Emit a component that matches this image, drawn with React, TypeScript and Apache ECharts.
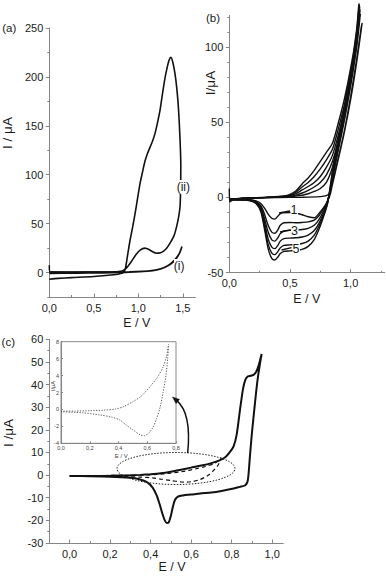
import React, { useEffect, useRef } from "react";
import * as echarts from "echarts";

const FONT = "'Liberation Sans', Arial, sans-serif";
const AXIS = "#858585";
const TXT = "#1a1a1a";

// ---------- Panel (a) ----------
const aTicksX = [0, 0.5, 1, 1.5];
const aMinorX = [0, 0.25, 0.5, 0.75, 1, 1.25, 1.5];
const aTicksY = [0, 50, 100, 150, 200, 250];
const aMinorY = [-25, 0, 25, 50, 75, 100, 125, 150, 175, 200, 225, 250];
const aIIForward = [[0, 7.5], [0.01, 0.4], [0.2, 0.3], [0.4, 0.4], [0.6, 0.5], [0.75, 0.8], [0.82, 1.5], [0.87, 5], [0.92, 11], [0.97, 18], [1.02, 23], [1.075, 25], [1.12, 23.5], [1.165, 21], [1.205, 19.8], [1.25, 20.3], [1.28, 21.6], [1.32, 25], [1.356, 30], [1.4, 37.5], [1.43, 47], [1.455, 58], [1.469, 68], [1.476, 90]];
const aIIReverse = [[1.476, 90], [1.477, 110], [1.469, 135], [1.45, 169], [1.43, 190], [1.412, 203], [1.39, 214], [1.367, 220], [1.345, 217], [1.32, 208], [1.3, 199], [1.27, 182], [1.244, 166], [1.215, 153], [1.187, 142], [1.16, 134.5], [1.131, 128], [1.1, 121], [1.075, 114], [1.05, 104], [1.019, 91], [0.99, 75], [0.963, 60], [0.935, 46], [0.907, 33], [0.885, 21], [0.868, 11], [0.852, 3], [0.83, 0], [0.8, -1], [0.75, -2], [0.5, -4], [0.25, -5.2], [0.1, -6], [0, -6.8]];
const aIForward = [[0, 0.6], [0.3, 0.5], [0.6, 0.5], [0.9, 0.7], [1.05, 1.2], [1.15, 2], [1.25, 3.8], [1.32, 6.5], [1.38, 10.5], [1.43, 15.5], [1.465, 20.5], [1.49, 26.5]];
const aIReverse = [[1.49, 26.5], [1.47, 21], [1.44, 16], [1.41, 12.5], [1.36, 8.5], [1.3, 5.5], [1.22, 3], [1.1, 1.3], [0.9, 0.3], [0.6, -0.3], [0.3, -0.6], [0, -0.9]];

// ---------- Panel (b) ----------
const bTicksX = [0, 0.5, 1];
const bMinorX = [0, 0.25, 0.5, 0.75, 1, 1.25];
const bTicksY = [-50, 0, 50, 100];
const bMinorY = [-50, -40, -30, -20, -10, 0, 10, 20, 30, 40, 50, 60, 70, 80, 90, 100, 110, 120];
const bCycle1 = [[0, 6], [0.004, -3], [0.03, -1.5], [0.1, -0.6], [0.2, -0.2], [0.4, 0], [0.6, 0.2], [0.75, 0.6], [0.8, 1.2], [0.83, 3], [0.86, 12], [0.9, 26], [0.95, 44], [1.0, 65], [1.05, 90], [1.095, 116],
  [1.085, 112], [1.05, 92], [1.0, 67], [0.95, 45], [0.9, 27], [0.86, 13], [0.835, 3], [0.81, -2.5], [0.78, -6.5], [0.74, -10.5], [0.7, -13.5], [0.65, -12.8], [0.6, -11.5], [0.55, -10.5], [0.5, -10], [0.44, -10.2], [0.42, -10.8], [0.4, -12.5], [0.375, -14.4], [0.35, -13.8], [0.32, -11], [0.29, -7], [0.26, -4], [0.22, -2.3], [0.17, -1.5], [0.1, -1.1], [0, -1]];
const bCycle2 = [[0, -1], [0.1, -0.6], [0.3, -0.1], [0.45, 0.3], [0.5, 0.6], [0.55, 1], [0.6, 1.5], [0.65, 2.5], [0.7, 4], [0.75, 6], [0.8, 10], [0.85, 20], [0.9, 35], [0.95, 52], [1.0, 74], [1.05, 100], [1.08, 122],
  [1.075, 120], [1.05, 103], [1.0, 76], [0.95, 52], [0.9, 32], [0.86, 16], [0.835, 5], [0.81, -2], [0.78, -7], [0.74, -12], [0.7, -15], [0.65, -16.2], [0.6, -16.6], [0.55, -16.8], [0.5, -16.6], [0.45, -16.8], [0.42, -18.5], [0.4, -21.5], [0.375, -23.8], [0.35, -23], [0.32, -18.5], [0.29, -11], [0.26, -5.5], [0.22, -2.8], [0.17, -1.7], [0.1, -1.3], [0, -1.2]];
const bCycle3 = [[0, -1.2], [0.1, -0.7], [0.3, -0.1], [0.45, 0.4], [0.5, 0.8], [0.55, 1.6], [0.6, 3], [0.65, 4.8], [0.7, 7], [0.75, 10], [0.8, 15], [0.85, 24], [0.9, 38], [0.95, 55], [1.0, 77], [1.05, 103], [1.078, 125],
  [1.072, 122], [1.05, 106], [1.0, 78], [0.95, 54], [0.9, 34], [0.86, 17], [0.835, 6], [0.81, -2.5], [0.78, -8.5], [0.74, -14.5], [0.7, -18.5], [0.65, -20.5], [0.6, -21.3], [0.55, -21.6], [0.5, -21.8], [0.45, -22.3], [0.42, -24], [0.4, -26.8], [0.375, -29], [0.35, -28.2], [0.32, -23], [0.29, -14], [0.26, -6.5], [0.22, -3.1], [0.17, -1.8], [0.1, -1.4], [0, -1.3]];
const bCycle4 = [[0, -1.3], [0.1, -0.7], [0.3, 0], [0.45, 0.6], [0.5, 1.2], [0.55, 2.5], [0.6, 5], [0.65, 7.3], [0.7, 10], [0.75, 14], [0.8, 20], [0.85, 28], [0.9, 42], [0.95, 58], [1.0, 80], [1.05, 106], [1.075, 127],
  [1.07, 124], [1.05, 108], [1.0, 80], [0.95, 56], [0.9, 36], [0.86, 19], [0.835, 7], [0.81, -3], [0.78, -10], [0.74, -17], [0.7, -22], [0.65, -25], [0.6, -26.3], [0.55, -26.8], [0.5, -27], [0.45, -27.3], [0.42, -29], [0.4, -31.8], [0.375, -34], [0.35, -33], [0.32, -27.5], [0.29, -16.5], [0.26, -7.5], [0.22, -3.4], [0.17, -1.9], [0.1, -1.5], [0, -1.4]];
const bCycle5 = [[0, -1.4], [0.1, -0.7], [0.3, 0.1], [0.45, 0.8], [0.5, 1.6], [0.55, 3.5], [0.6, 7], [0.65, 10], [0.7, 14], [0.75, 19], [0.8, 25], [0.85, 32], [0.9, 46], [0.95, 62], [1.0, 83], [1.05, 108], [1.072, 128],
  [1.068, 126], [1.05, 110], [1.0, 82], [0.95, 58], [0.9, 38], [0.86, 21], [0.835, 8], [0.81, -3.5], [0.78, -11], [0.74, -19], [0.7, -25], [0.65, -29], [0.6, -30.6], [0.55, -31.2], [0.5, -31.5], [0.45, -31.8], [0.42, -33.5], [0.4, -36], [0.375, -38], [0.35, -37], [0.32, -31], [0.29, -19], [0.26, -8.5], [0.22, -3.7], [0.17, -2], [0.1, -1.6], [0, -1.5]];
const bCycle6 = [[0, -1.5], [0.1, -0.7], [0.3, 0.2], [0.45, 1], [0.5, 2], [0.55, 4.5], [0.6, 9], [0.65, 13], [0.7, 18], [0.75, 24], [0.8, 30], [0.85, 36], [0.9, 50], [0.95, 66], [1.0, 86], [1.05, 110], [1.07, 129],
  [1.066, 127], [1.05, 112], [1.0, 84], [0.95, 60], [0.9, 40], [0.86, 23], [0.835, 9], [0.81, -4], [0.78, -12], [0.74, -21], [0.7, -28], [0.65, -32.5], [0.6, -34.5], [0.55, -35.2], [0.5, -35.5], [0.45, -35.8], [0.42, -37.3], [0.4, -39.6], [0.375, -41.6], [0.35, -40.5], [0.32, -34], [0.29, -21], [0.26, -9.5], [0.22, -4], [0.17, -2.1], [0.1, -1.7], [0, -1.6]];
const bCycles = [bCycle1, bCycle2, bCycle3, bCycle4, bCycle5, bCycle6];

// ---------- Panel (c) ----------
const cTicksX = [0, 0.2, 0.4, 0.6, 0.8, 1.0];
const cMinorX = [-0.1, 0, 0.1, 0.2, 0.3, 0.4, 0.5, 0.6, 0.7, 0.8, 0.9, 1.0];
const cTicksY = [-30, -20, -10, 0, 10, 20, 30, 40, 50, 60];
const cMinorY = [-30, -25, -20, -15, -10, -5, 0, 5, 10, 15, 20, 25, 30, 35, 40, 45, 50, 55, 60];
const cSolidForward = [[0, -0.4], [0.1, -0.4], [0.2, -0.3], [0.3, -0.1], [0.35, 0.1], [0.4, 0.4], [0.45, 0.8], [0.5, 1.5], [0.55, 2.4], [0.6, 3.3], [0.65, 4.2], [0.7, 5.3], [0.74, 6.5], [0.77, 8], [0.79, 10], [0.81, 12.8], [0.825, 18], [0.843, 30], [0.856, 38], [0.867, 42], [0.878, 43.5], [0.889, 43.8], [0.908, 44.3], [0.922, 45.8], [0.935, 49], [0.948, 53.5]];
const cSolidReverse = [[0.948, 53.5], [0.936, 47], [0.925, 40], [0.912, 29], [0.9, 18.5], [0.89, 8], [0.884, 1], [0.878, -3], [0.865, -4.6], [0.84, -5.2], [0.81, -5.9], [0.75, -7], [0.7, -7.7], [0.645, -8.1], [0.6, -8.6], [0.56, -9], [0.535, -9.5], [0.52, -11], [0.51, -14], [0.5, -18], [0.49, -20.8], [0.48, -21.2], [0.47, -20], [0.46, -17.5], [0.445, -13], [0.43, -9], [0.41, -5.5], [0.38, -3], [0.34, -1.7], [0.3, -1.2], [0.2, -0.7], [0.1, -0.5], [0, -0.4]];
const insetForward = [[0, -0.2], [0.1, -0.2], [0.2, -0.15], [0.3, -0.08], [0.38, 0.05], [0.43, 0.3], [0.5, 0.9], [0.56, 1.6], [0.62, 2.7], [0.67, 3.8], [0.71, 5.0], [0.735, 6.3], [0.748, 7.7]];
const insetReverse = [[0.748, 7.7], [0.742, 6], [0.73, 4], [0.71, 2], [0.69, 0.3], [0.665, -1.1], [0.64, -2.1], [0.61, -2.8], [0.58, -3.1], [0.55, -3.0], [0.5, -2.4], [0.45, -1.8], [0.41, -1.25], [0.35, -0.9], [0.27, -0.65], [0.15, -0.4], [0, -0.27]];
const insetTicksX = [0, 0.2, 0.4, 0.6, 0.8];
const insetTicksY = [-4, -2, 0, 2, 4, 6, 8];

const fmtComma = (v: number) => v.toFixed(1).replace(".", ",");
const fmtInt = (v: number) => String(Math.round(v));

function xMajor(grid: number, min: number, max: number, ticks: number[], fs = 11, tl = 3.5, margin = 5, color = TXT) {
  return {
    type: "value", gridIndex: grid, min, max, position: "bottom",
    axisLine: { show: true, onZero: false, lineStyle: { color: AXIS, width: 1 } },
    axisTick: { show: true, inside: true, length: tl, customValues: ticks, lineStyle: { color: AXIS } },
    axisLabel: { show: true, customValues: ticks, formatter: fmtComma, margin, fontSize: fs, fontFamily: FONT, color },
    splitLine: { show: false },
  };
}
function xMinor(grid: number, min: number, max: number, ticks: number[]) {
  return {
    type: "value", gridIndex: grid, min, max, position: "bottom",
    axisLine: { show: false, onZero: false },
    axisTick: { show: true, inside: true, length: 2, customValues: ticks, lineStyle: { color: AXIS } },
    axisLabel: { show: false },
    splitLine: { show: false },
  };
}
function yMajor(grid: number, min: number, max: number, ticks: number[], fs = 11, tl = 3.5, margin = 6, inside = false, color = TXT) {
  return {
    type: "value", gridIndex: grid, min, max, position: "left",
    axisLine: { show: true, onZero: false, lineStyle: { color: AXIS, width: 1 } },
    axisTick: { show: true, inside, length: tl, customValues: ticks, lineStyle: { color: AXIS } },
    axisLabel: { show: true, customValues: ticks, formatter: fmtInt, margin, fontSize: fs, fontFamily: FONT, color },
    splitLine: { show: false },
  };
}
function yMinor(grid: number, min: number, max: number, ticks: number[]) {
  return {
    type: "value", gridIndex: grid, min, max, position: "left",
    axisLine: { show: false, onZero: false },
    axisTick: { show: true, inside: false, length: 2, customValues: ticks, lineStyle: { color: AXIS } },
    axisLabel: { show: false },
    splitLine: { show: false },
  };
}

function txt(text: string, x: number, y: number, size: number, rot = 0, extra: any = {}) {
  return {
    type: "text", x, y, rotation: rot, z: 101,
    style: {
      text, x: 0, y: 0, fontSize: size, fontFamily: FONT, fill: TXT,
      align: "center", verticalAlign: "middle", textAlign: "center", textVerticalAlign: "middle",
      ...extra,
    },
  };
}
function seg(x1: number, y1: number, x2: number, y2: number, w = 1.3) {
  return { type: "line", z: 100, shape: { x1, y1, x2, y2 }, style: { stroke: "#111", lineWidth: w } };
}
function whiteBox(x: number, y: number, w: number, h: number) {
  return { type: "rect", z: 100, shape: { x, y, width: w, height: h }, style: { fill: "#fff", stroke: "none" } };
}

function lineSeries(data: number[][], axis: number, width: number, extra: any = {}) {
  return {
    type: "line", data, xAxisIndex: axis, yAxisIndex: axis, showSymbol: false, symbol: "none",
    smooth: 0.25, lineStyle: { color: "#111", width }, silent: true, ...extra,
  };
}

export default function App() {
  const ref = useRef<HTMLDivElement>(null);
  useEffect(() => {
    document.body.style.margin = "0";
    const chart = echarts.init(ref.current!, null, { renderer: "svg" });
    const option: any = {
      animation: false,
      backgroundColor: "#fff",
      grid: [
        { left: 49.3, top: 28, width: 146, height: 269, containLabel: false, outerBoundsMode: "none" },
        { left: 229.3, top: 15.5, width: 155.3, height: 257.2, containLabel: false, outerBoundsMode: "none" },
        { left: 49.3, top: 339.3, width: 234, height: 203.7, containLabel: false, outerBoundsMode: "none" },
        { left: 61, top: 341.7, width: 115, height: 101.6, containLabel: false, outerBoundsMode: "none", show: true, backgroundColor: "#fff", borderColor: "#8a8a8a", borderWidth: 1 },
      ],
      xAxis: [
        xMajor(0, 0, 1.64, aTicksX), xMinor(0, 0, 1.64, aMinorX),
        xMajor(1, 0, 1.28, bTicksX), xMinor(1, 0, 1.28, bMinorX),
        xMajor(2, -0.1, 1.055, cTicksX), xMinor(2, -0.1, 1.055, cMinorX),
        xMajor(3, 0, 0.8, insetTicksX, 5.5, 2, 2, "#444"),
      ],
      yAxis: [
        yMajor(0, -25, 250, aTicksY), yMinor(0, -25, 250, aMinorY),
        yMajor(1, -50, 121, bTicksY), yMinor(1, -50, 121, bMinorY),
        yMajor(2, -30, 60, cTicksY), yMinor(2, -30, 60, cMinorY),
        yMajor(3, -4, 8, insetTicksY, 5.5, 2, 2, true, "#444"),
      ],
      series: [
        lineSeries([...aIIForward, ...aIIReverse.slice(1)], 0, 1.6),
        lineSeries([...aIForward, ...aIReverse.slice(1)], 0, 1.6),
        ...bCycles.map((c) => lineSeries(c, 2, 1.4, { clip: false })),
        lineSeries([...cSolidForward, ...cSolidReverse.slice(1)], 4, 2),
        lineSeries([...insetForward, ...insetReverse.slice(1)], 4, 1.2, { lineStyle: { color: "#111", width: 1.2, type: [4, 3] } }),
        lineSeries([...insetForward, ...insetReverse.slice(1)], 6, 1, { lineStyle: { color: "#555", width: 1, type: [1.2, 1.5] } }),
      ],
      graphic: [
        txt("(a)", 9.3, 28, 11.5),
        txt("(b)", 213, 17.5, 11.5),
        txt("(c)", 8.3, 341.7, 11.5),
        txt("I / μA", 7.5, 133, 13.5, Math.PI / 2),
        txt("I/μA", 210, 83, 13.5, Math.PI / 2),
        txt("I /μA", 8.3, 433, 13.5, Math.PI / 2),
        txt("E / V", 136.7, 322.5, 12.5),
        txt("E / V", 306.7, 299, 12.5),
        txt("E / V", 172, 566.7, 12.5),
        txt("E / V", 121.3, 455.8, 6, 0, { fill: "#444" }),
        txt("I/μA", 52.5, 386, 5.5, Math.PI / 2, { fill: "#444" }),
        whiteBox(176, 180, 15, 14),
        txt("(ii)", 183.3, 186.7, 12),
        whiteBox(174, 259, 11, 14),
        txt("(i)", 179.2, 265.8, 12),
        whiteBox(290.5, 204, 7.5, 12),
        seg(279, 213, 290, 211),
        txt("1", 294, 210, 12.5),
        whiteBox(291, 225, 7.5, 12),
        seg(280, 232, 290.5, 230),
        txt("3", 294.5, 231, 12.5),
        whiteBox(292.5, 242.5, 7.5, 12),
        seg(281.5, 250, 291.5, 247.7),
        txt("5", 296, 248.5, 12.5),
        {
          type: "ellipse", z: 100, shape: { cx: 176, cy: 468.5, rx: 59, ry: 16 },
          style: { fill: "none", stroke: "#222", lineWidth: 1, lineDash: [1.5, 1.5] },
        },
        {
          type: "bezierCurve", z: 100,
          shape: { x1: 187.7, y1: 453, cpx1: 190.5, cpy1: 425, cpx2: 186, cpy2: 408, x2: 176.5, y2: 400.3 },
          style: { fill: "none", stroke: "#111", lineWidth: 1.5 },
        },
        {
          type: "polygon", z: 100,
          shape: { points: [[172.5, 397], [179.5, 399.4], [176, 403.6]] },
          style: { fill: "#111", stroke: "#111", lineWidth: 0.5 },
        },
      ],
    };
    chart.setOption(option);
    return () => chart.dispose();
  }, []);
  return <div ref={ref} style={{ position: "absolute", left: 0, top: 0, width: 386, height: 577, background: "#fff" }} />;
}
